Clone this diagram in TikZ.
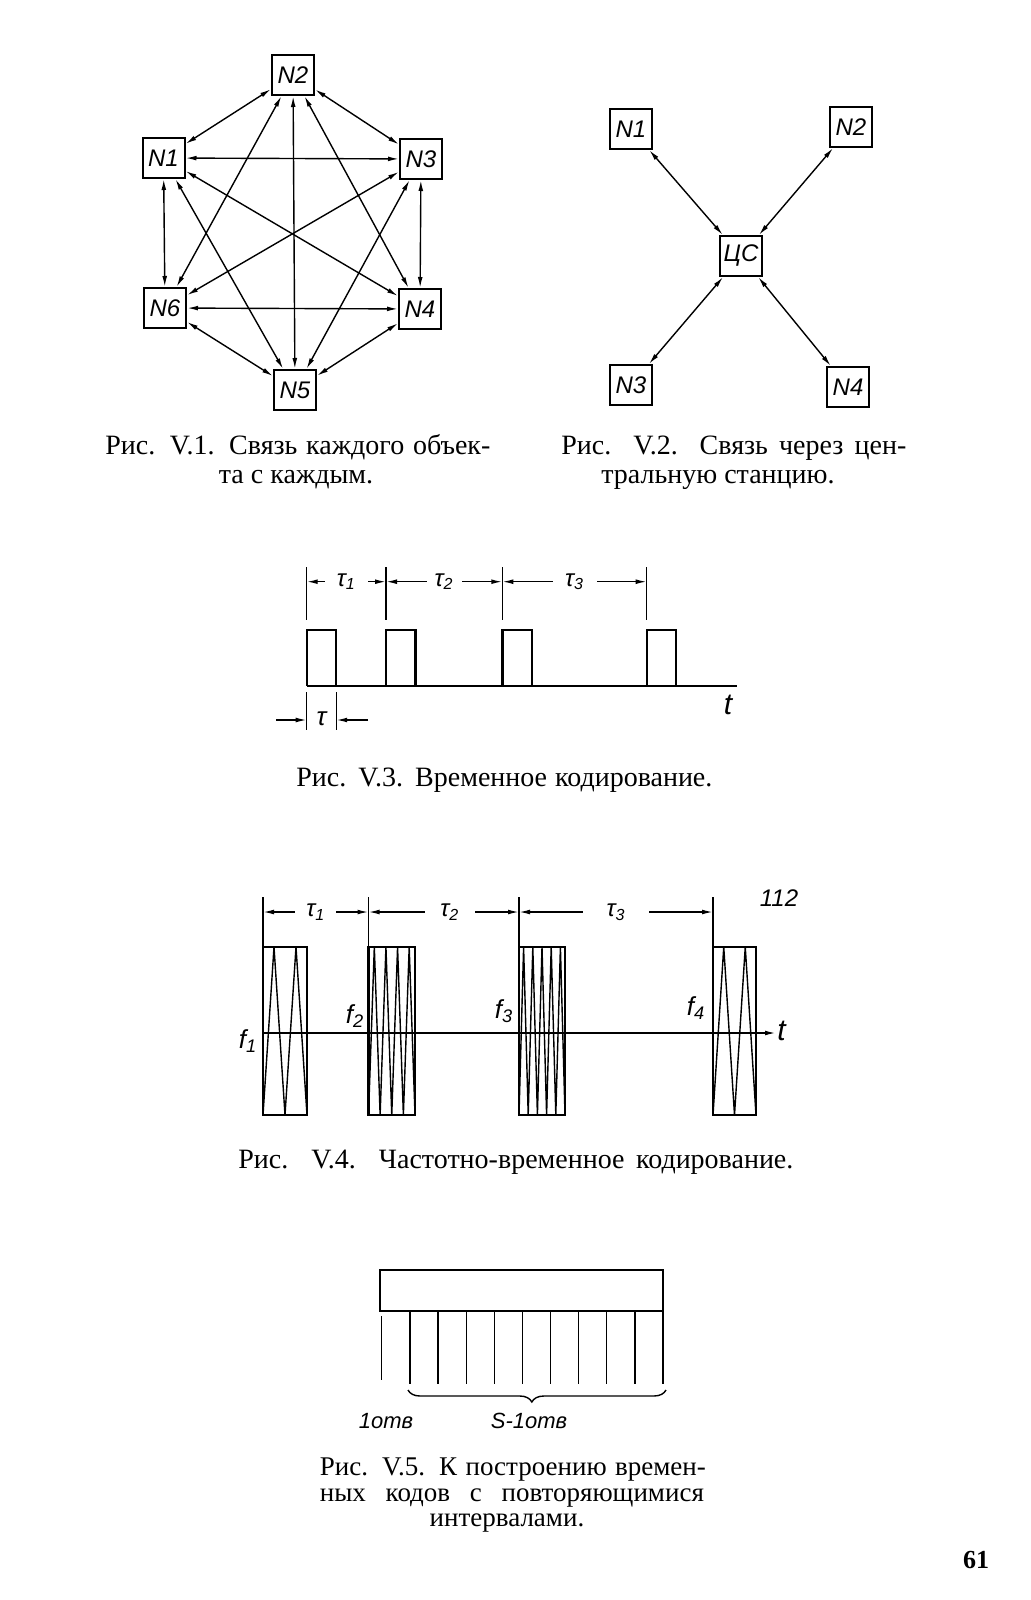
\documentclass[tikz,border=0pt]{standalone}
\usepackage{fontspec}
\setmainfont{Liberation Serif}
\setsansfont{Liberation Sans}
\usetikzlibrary{arrows.meta,decorations.pathreplacing}

\begin{document}
\begin{tikzpicture}[
    x=0.5pt, y=-0.5pt,
    >={Latex[length=5.5pt,width=2.4pt]},
    station/.style={
        rectangle,
        draw,
        line width=1pt,
        minimum width=21pt,
        minimum height=20pt,
        inner sep=1pt,
        font=\fontsize{12}{12}\sffamily\itshape
    },
    link/.style={
        <->,
        line width=0.7pt
    },
    caption/.style={
        inner sep=0pt,
        font=\fontsize{14}{16}\selectfont
    },
    pulse/.style={line width=1.2pt},
    axis/.style={line width=0.8pt},
    extline/.style={line width=0.7pt},
    dimline/.style={<->, line width=0.7pt},
    dimlabel/.style={
        fill=white,
        inner sep=0pt,
        minimum height=12pt,
        font=\fontsize{12}{12}\sffamily\itshape
    },
    siglabel/.style={
        inner sep=0pt,
        font=\fontsize{13}{13}\sffamily\itshape
    },
    carrier/.style={line width=0.7pt}
]

    \fill[white] (0,0) rectangle (1030,1600);
    \useasboundingbox (0,0) rectangle (1030,1600);

    % --- Fig. V.1: every station with every other ---
    \node[station] (s1) at (163.5,158) {N1};
    \node[station] (s2) at (293,75) {N2};
    \node[station] (s3) at (421,159) {N3};
    \node[station] (s4) at (420,309) {N4};
    \node[station] (s5) at (295,390) {N5};
    \node[station] (s6) at (165,308) {N6};

    \foreach \u/\v in {s1/s2,s1/s3,s1/s4,s1/s5,s1/s6,s2/s3,s2/s4,s2/s5,
                       s2/s6,s3/s4,s3/s5,s3/s6,s4/s5,s4/s6,s5/s6}
        \draw[link] (\u) -- (\v);

    \node[caption, anchor=base west] (cap1a) at (105,454)
        {\makebox[192.5pt][s]{Рис. V.1. Связь каждого объек-}};
    \node[caption, anchor=base] (cap1b) at (296,483) {та с каждым.};

    % --- Fig. V.2: through the central station ---
    \node[station] (cs) at (741,256) {ЦС};
    \node[station] (c1) at (631,129) {N1};
    \node[station] (c2) at (851,127) {N2};
    \node[station] (c3) at (631,385) {N3};
    \node[station] (c4) at (848,387) {N4};

    \foreach \v in {c1,c2,c3,c4}
        \draw[link] (cs) -- (\v);

    \node[caption, anchor=base west] (cap2a) at (561,454)
        {\makebox[172.5pt][s]{Рис. V.2. Связь через цен-}};
    \node[caption, anchor=base] (cap2b) at (718,483) {тральную станцию.};

    % --- Fig. V.3: time coding ---
    \draw[axis] (306.7,685.7) -- (737,685.7);
    \foreach \x [count=\i] in {306.7,386,502.3,646.7} {
        \draw[pulse] (\x,685.7) -- (\x,630) -- ({\x+29.5},630) -- ({\x+29.5},685.7);
        \draw[extline] (\x,567) -- (\x,620);
        \coordinate (d\i) at (\x,581.7);
    }
    \draw[dimline] (d1) -- node[dimlabel, minimum width=21.5pt] {τ\textsubscript{1}} (d2);
    \draw[dimline] (d2) -- node[dimlabel, minimum width=17.5pt] {τ\textsubscript{2}} (d3);
    \draw[dimline] (d3) -- node[dimlabel, minimum width=22pt] {τ\textsubscript{3}} (d4);

    \draw[extline] (306.7,692) -- (306.7,730);
    \draw[extline] (336.2,692) -- (336.2,730);
    \coordinate (w1) at (306.7,720);
    \coordinate (w2) at (336.2,720);
    \coordinate (wl) at (276,720);
    \coordinate (wr) at (368,720);
    \draw[extline, ->] (wl) -- (w1);
    \draw[extline, ->] (wr) -- (w2);
    \node[siglabel] (tw) at (321.5,719) {τ};
    \node[siglabel, font=\fontsize{15}{15}\sffamily\itshape] (t3) at (728,705) {t};

    \node[caption, anchor=base west] (cap3) at (296,786)
        {\makebox[208pt][s]{Рис. V.3. Временное кодирование.}};

    % --- Fig. V.4: frequency-time coding ---
    \foreach \xa/\xb/\n in {263/307/4, 368.5/415/8, 519/565/10, 713/756/4} {
        \draw[pulse] (\xa,947) rectangle (\xb,1115);
        \draw[carrier] plot[variable=\k, samples at={0,...,\n}]
            ({\xa+\k*(\xb-\xa)/\n}, {ifthenelse(mod(\k,2)==0,1115,947)});
    }
    \draw[axis, ->] (263,1033) -- (776,1033);
    \node[siglabel, anchor=west, font=\fontsize{15}{15}\sffamily\itshape] (t4) at (777,1031) {t};

    \foreach \x [count=\i] in {263,368.5,519,713} {
        \draw[extline] (\x,897) -- (\x,947);
        \coordinate (g\i) at (\x,912);
    }
    \draw[dimline] (g1) -- node[dimlabel, minimum width=20.5pt] {τ\textsubscript{1}} (g2);
    \draw[dimline] (g2) -- node[dimlabel, minimum width=25pt, pos=0.54] {τ\textsubscript{2}} (g3);
    \draw[dimline] (g3) -- node[dimlabel, minimum width=33pt] {τ\textsubscript{3}} (g4);

    \node[siglabel] (f1) at (248,1041) {f\textsubscript{1}};
    \node[siglabel] (f2) at (355,1016) {f\textsubscript{2}};
    \node[siglabel] (f3) at (504,1011) {f\textsubscript{3}};
    \node[siglabel] (f4) at (696,1008) {f\textsubscript{4}};
    \node[siglabel, font=\fontsize{12}{12}\sffamily\itshape] (note) at (779,898) {112};

    \node[caption, anchor=base west] (cap4) at (238,1168)
        {\makebox[277.5pt][s]{Рис. V.4. Частотно-временное кодирование.}};

    % --- Fig. V.5: repeating intervals ---
    \draw[line width=1.4pt] (380,1270) rectangle (663,1311);
    \draw[extline] (381.7,1316) -- (381.7,1380);
    \foreach \k in {0,...,9}
        \draw[extline] ({410+\k*28.1},1311) -- ({410+\k*28.1},1384);
    \coordinate (b1) at (408,1390);
    \coordinate (b2) at (666,1390);
    \draw[extline, decorate, decoration={brace, mirror, amplitude=6pt, aspect=0.48}] (b1) -- (b2);
    \node[siglabel, font=\fontsize{11}{11}\sffamily\itshape] (one) at (386,1421) {1отв};
    \node[siglabel, font=\fontsize{11}{11}\sffamily\itshape] (rest) at (529,1421) {S-1отв};

    \node[caption, anchor=base west, font=\fontsize{13.5}{15}\selectfont] (cap5a) at (319.5,1475)
        {\makebox[193pt][s]{Рис. V.5. К построению времен-}};
    \node[caption, anchor=base west, font=\fontsize{13.5}{15}\selectfont] (cap5b) at (319.5,1501)
        {\makebox[192pt][s]{ных кодов с повторяющимися}};
    \node[caption, anchor=base, font=\fontsize{13.5}{15}\selectfont] (cap5c) at (507,1526) {интервалами.};

    \node[caption, anchor=base, font=\fontsize{13}{15}\bfseries] (page) at (976,1568) {61};

\end{tikzpicture}
\end{document}
